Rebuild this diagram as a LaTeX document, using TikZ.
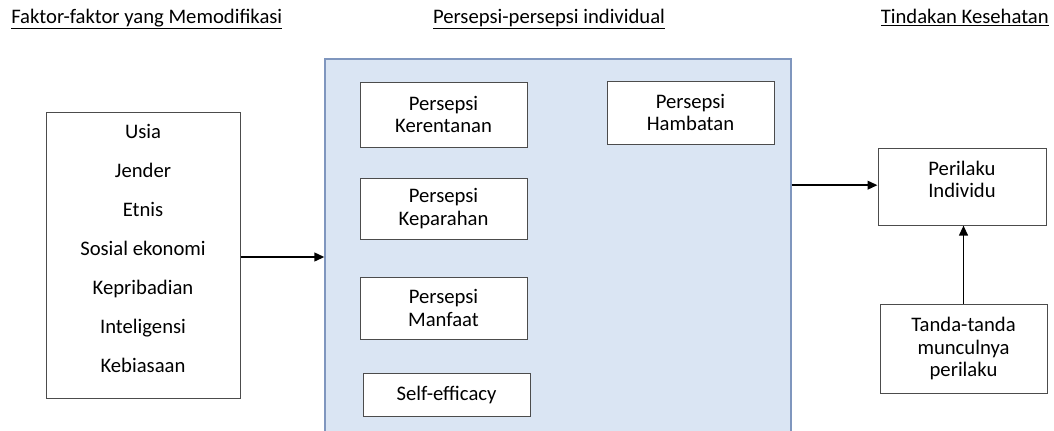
\documentclass[tikz,border=0pt]{standalone}
\usepackage{fontspec}
\setmainfont{Carlito}
\usetikzlibrary{arrows.meta}
\definecolor{boxblue}{HTML}{DAE5F3}
\definecolor{edgeblue}{HTML}{7F96BE}

\begin{document}
\begin{tikzpicture}[x=0.75pt,y=0.75pt,yscale=-1,xscale=1,
  font=\fontsize{15.5}{17}\selectfont,
  box/.style={draw=black!70,fill=white,line width=0.75pt,align=center,inner sep=0pt},
  link/.style={-{Triangle[length=7.5pt,width=6.5pt]},line width=1.4pt}]
%set diagram size to 1054 x 430
\useasboundingbox (0,0) rectangle (1054,430);
\clip (0,0) rectangle (1054,430);

% Text Node
\node[anchor=base west,inner sep=0pt] (headA) at (11,23) {\underline{Faktor-faktor yang Memodifikasi}};
% Text Node
\node[anchor=base,inner sep=0pt] (headB) at (549,23) {\underline{Persepsi-persepsi individual}};
% Text Node
\node[anchor=base east,inner sep=0pt] (headC) at (1049,23) {\underline{Tindakan Kesehatan}};

%Shape: Rectangle [id:factors]
\node[box,minimum width=145.5pt,minimum height=214.5pt,
  font=\fontsize{15.5}{29.25}\selectfont] (factors) at (143,255)
  {Usia\\Jender\\Etnis\\Sosial ekonomi\\Kepribadian\\Inteligensi\\Kebiasaan\\[-18.75pt]\mbox{}};

%Shape: Rectangle [id:persep]
\node[draw=edgeblue,fill=boxblue,line width=0.9pt,minimum width=349.5pt,
  minimum height=289.5pt,inner sep=0pt] (persep) at (558,252) {};

% Inner boxes
\node[box,minimum width=125.25pt,minimum height=48.75pt] (rentan) at (443.5,114.5) {Persepsi\\Kerentanan};
\node[box,minimum width=125.25pt,minimum height=45.75pt] (parah) at (443.5,208.5) {Persepsi\\Keparahan};
\node[box,minimum width=125.25pt,minimum height=46.5pt] (manfaat) at (443.5,308) {Persepsi\\Manfaat};
\node[box,minimum width=125.25pt,minimum height=32.25pt] (efficacy) at (446.5,394.5) {Self-efficacy};
\node[box,minimum width=125.25pt,minimum height=47.25pt] (hambat) at (690.5,112.5) {Persepsi\\Hambatan};

% Right side
\node[box,minimum width=126pt,minimum height=57.75pt] (perilaku) at (962,186.5) {Perilaku\\Individu\\[-6pt]\mbox{}};
\node[box,minimum width=125.25pt,minimum height=66.75pt] (tanda) at (963.5,348.5) {Tanda-tanda\\munculnya\\perilaku};

%Straight Lines
\draw[link] ([yshift=1.5pt]factors.east) -- ([yshift=1.5pt]factors.east -| persep.west);
\draw[link] ([yshift=-1pt]perilaku.west -| persep.east) -- ([yshift=-1pt]perilaku.west);
\draw[link] (tanda.north) -- (tanda.north |- perilaku.south);

\end{tikzpicture}
\end{document}
